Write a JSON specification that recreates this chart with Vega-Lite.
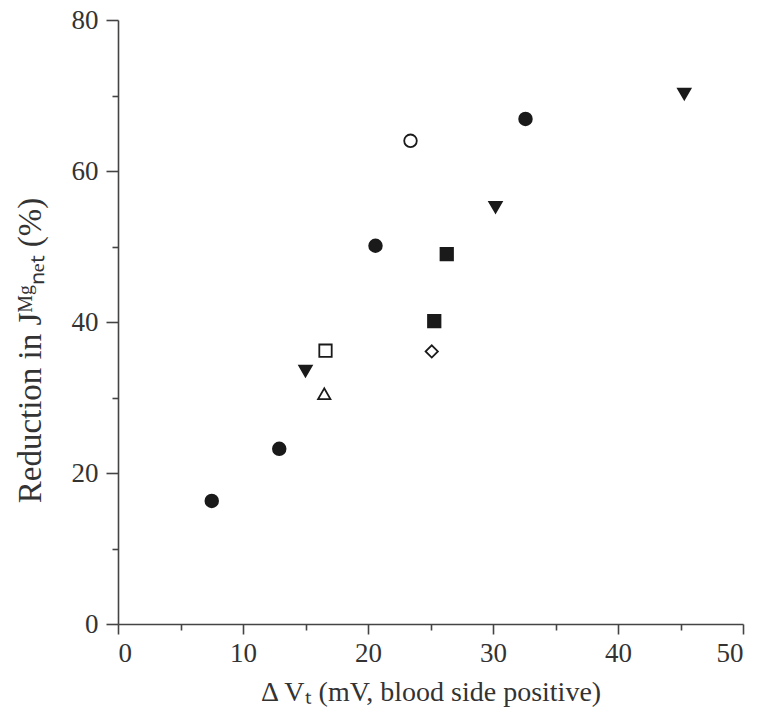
{
  "$schema": "https://vega.github.io/schema/vega-lite/v6.json",
  "width": 625,
  "height": 604,
  "autosize": "none",
  "padding": {"left": 118, "top": 20, "right": 19, "bottom": 96},
  "background": "white",
  "config": {
    "view": {"stroke": null},
    "font": "Liberation Serif",
    "axis": {
      "grid": false,
      "domainColor": "#444",
      "domainWidth": 1.6,
      "tickColor": "#444",
      "tickWidth": 1.6,
      "labelFont": "Liberation Serif",
      "labelFontSize": 27,
      "labelColor": "#333",
      "titleFont": "Liberation Serif",
      "titleFontSize": 28,
      "titleFontWeight": "normal",
      "titleColor": "#333"
    }
  },
  "data": {
    "values": [
      {"dv": 7.5, "red": 16.3, "series": "A"},
      {"dv": 12.9, "red": 23.2, "series": "A"},
      {"dv": 20.6, "red": 50.1, "series": "A"},
      {"dv": 32.6, "red": 66.9, "series": "A"},
      {"dv": 23.4, "red": 64.0, "series": "B"},
      {"dv": 15.0, "red": 33.5, "series": "C"},
      {"dv": 30.2, "red": 55.2, "series": "C"},
      {"dv": 45.3, "red": 70.2, "series": "C"},
      {"dv": 26.3, "red": 49.0, "series": "D"},
      {"dv": 25.3, "red": 40.1, "series": "D"},
      {"dv": 16.6, "red": 36.2, "series": "E"},
      {"dv": 16.5, "red": 30.5, "series": "F"},
      {"dv": 25.1, "red": 36.1, "series": "G"}
    ]
  },
  "mark": {"type": "point", "stroke": "#1a1a1a", "strokeWidth": 1.8, "opacity": 1, "fillOpacity": 1},
  "encoding": {
    "x": {
      "field": "dv", "type": "quantitative",
      "scale": {"domain": [0, 50], "nice": false},
      "axis": {
        "title": "Δ Vₜ (mV, blood side positive)",
        "values": [0, 5, 10, 15, 20, 25, 30, 35, 40, 45, 50],
        "labelExpr": "datum.value % 10 == 0 ? datum.label : ''",
        "tickSize": {"condition": {"test": "datum.value % 10 == 0", "value": 10}, "value": 6},
        "labelPadding": 6,
        "titlePadding": 12
      }
    },
    "y": {
      "field": "red", "type": "quantitative",
      "scale": {"domain": [0, 80], "nice": false},
      "axis": {
        "title": "Reduction in Jᴹᵍₙₑₜ (%)",
        "titleFontSize": 33,
        "titleX": -71,
        "titleY": 330,
        "values": [0, 10, 20, 30, 40, 50, 60, 70, 80],
        "labelExpr": "datum.value % 20 == 0 ? datum.label : ''",
        "tickSize": {"condition": {"test": "datum.value % 20 == 0", "value": 12}, "value": 6},
        "labelPadding": 8
      }
    },
    "shape": {
      "field": "series", "type": "nominal",
      "scale": {
        "domain": ["A", "B", "C", "D", "E", "F", "G"],
        "range": ["circle", "circle", "triangle-down", "square", "square", "triangle-up", "diamond"]
      },
      "legend": null
    },
    "size": {
      "field": "series", "type": "nominal",
      "scale": {
        "domain": ["A", "B", "C", "D", "E", "F", "G"],
        "range": [160, 150, 160, 160, 150, 160, 320]
      },
      "legend": null
    },
    "fill": {
      "field": "series", "type": "nominal",
      "scale": {
        "domain": ["A", "B", "C", "D", "E", "F", "G"],
        "range": ["#1a1a1a", "white", "#1a1a1a", "#1a1a1a", "white", "white", "white"]
      },
      "legend": null
    }
  }
}
